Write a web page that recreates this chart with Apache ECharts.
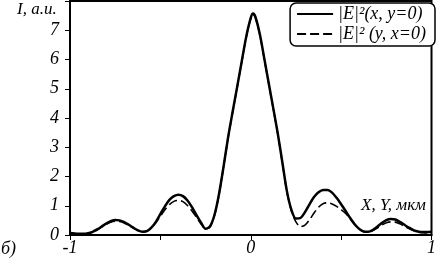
<!DOCTYPE html>
<html><head><meta charset="utf-8">
<script src="https://cdn.jsdelivr.net/npm/echarts@6/dist/echarts.min.js"></script>
<style>html,body{margin:0;padding:0;background:#fff}#c{width:439px;height:262px}</style>
</head><body><div id="c"></div>
<script>
const xs = [-1.0,-0.975,-0.95,-0.925,-0.9,-0.875,-0.85,-0.825,-0.8,-0.775,-0.75,-0.725,-0.7,-0.675,-0.65,-0.625,-0.6,-0.575,-0.55,-0.525,-0.5,-0.475,-0.45,-0.425,-0.4,-0.375,-0.35,-0.325,-0.3,-0.275,-0.25,-0.225,-0.2,-0.175,-0.15,-0.125,-0.1,-0.075,-0.05,-0.025,0.0,0.0125,0.025,0.05,0.075,0.1,0.125,0.15,0.175,0.2,0.225,0.25,0.275,0.3,0.325,0.35,0.375,0.4,0.425,0.45,0.475,0.5,0.525,0.55,0.575,0.6,0.625,0.65,0.675,0.7,0.725,0.75,0.775,0.8,0.825,0.85,0.875,0.9,0.925,0.95,0.975,1.0];
const solidX = [0.07,0.05,0.04,0.04,0.06,0.11,0.19,0.29,0.39,0.47,0.51,0.50,0.44,0.35,0.25,0.16,0.11,0.13,0.25,0.45,0.72,0.98,1.20,1.33,1.38,1.33,1.18,0.95,0.68,0.42,0.21,0.30,0.70,1.42,2.36,3.35,4.22,5.07,5.93,6.78,7.42,7.57,7.47,6.87,6.03,5.17,4.32,3.45,2.48,1.50,0.86,0.56,0.58,0.78,1.05,1.30,1.46,1.54,1.54,1.45,1.27,1.05,0.82,0.58,0.37,0.21,0.12,0.11,0.17,0.28,0.41,0.51,0.55,0.53,0.45,0.35,0.25,0.17,0.12,0.10,0.10,0.11];
const dashedY = [0.06,0.04,0.03,0.03,0.05,0.10,0.17,0.27,0.36,0.44,0.47,0.46,0.41,0.33,0.24,0.16,0.11,0.13,0.24,0.42,0.64,0.86,1.04,1.15,1.18,1.14,1.01,0.82,0.60,0.38,0.21,0.28,0.68,1.40,2.34,3.33,4.20,5.05,5.91,6.76,7.40,7.55,7.45,6.85,6.01,5.15,4.30,3.43,2.46,1.48,0.82,0.45,0.29,0.34,0.52,0.75,0.95,1.07,1.10,1.06,0.98,0.87,0.74,0.55,0.36,0.20,0.11,0.10,0.15,0.24,0.34,0.42,0.45,0.44,0.38,0.30,0.22,0.15,0.10,0.08,0.07,0.08];
const xTickLabels = {'-1':'-1','0':'0','1':'1'};
const yTickLabels = ['0','1','2','3','4','5','6','7'];
const seriesNames = ['|E|\u00b2(x, y=0)', '|E|\u00b2 (y, x=0)'];

const font = 'Liberation Serif';
const chart = echarts.init(document.getElementById('c'));
chart.setOption({
  animation: false,
  backgroundColor: '#fff',
  grid: {left: 70, right: 4, top: 1, bottom: 27, show: true, borderColor: '#000', borderWidth: 2},
  xAxis: {
    type: 'value', min: -1, max: 1, interval: 0.5,
    axisLine: {onZero: false, lineStyle: {color: '#000', width: 2}},
    axisTick: {show: true, length: 5, lineStyle: {color: '#000', width: 1}},
    splitLine: {show: false},
    axisLabel: {
      color: '#000', fontFamily: font, fontStyle: 'italic', fontSize: 18, margin: 4,
      formatter: v => { const k = String(Math.round(v*10)/10); return xTickLabels[k] !== undefined ? xTickLabels[k] : ''; }
    }
  },
  yAxis: {
    type: 'value', min: 0, max: 8, interval: 1,
    axisLine: {show: true, onZero: false, lineStyle: {color: '#000', width: 2}},
    axisTick: {show: true, length: 5, lineStyle: {color: '#000', width: 1}},
    splitLine: {show: false},
    axisLabel: {
      color: '#000', fontFamily: font, fontStyle: 'italic', fontSize: 18, margin: 11,
      formatter: v => (yTickLabels[v] !== undefined ? yTickLabels[v] : '')
    }
  },
  legend: {
    orient: 'vertical', right: 4, top: 3,
    data: [seriesNames[0], seriesNames[1]],
    itemWidth: 36, itemHeight: 16, itemGap: 2,
    padding: [2, 9, 3, 6],
    itemStyle: {opacity: 0},
    borderColor: '#000', borderWidth: 1.5, borderRadius: 6,
    backgroundColor: '#fff',
    textStyle: {color: '#000', fontFamily: font, fontStyle: 'italic', fontSize: 18}
  },
  graphic: [
    {type: 'text', left: 17, top: 1, style: {text: 'I, a.u.', fill: '#000', font: 'italic 17px "Liberation Serif"'}},
    {type: 'text', left: 361, top: 197, style: {text: 'X, Y, мкм', fill: '#000', font: 'italic 17px "Liberation Serif"'}},
    {type: 'text', left: 1, top: 240, style: {text: 'б)', fill: '#000', font: 'italic 18px "Liberation Serif"'}}
  ],
  series: [
    {
      name: seriesNames[0], type: 'line', showSymbol: false, symbol: 'none', smooth: 0.3, z: 3,
      data: xs.map((x, i) => [x, solidX[i]]),
      lineStyle: {color: '#000', width: 2.5, type: 'solid'}, itemStyle: {color: '#000'}
    },
    {
      name: seriesNames[1], type: 'line', showSymbol: false, symbol: 'none', smooth: 0.3, z: 2,
      data: xs.map((x, i) => [x, dashedY[i]]),
      lineStyle: {color: '#000', width: 1.6, type: [9, 4]}, itemStyle: {color: '#000'}
    }
  ]
});
</script></body></html>
